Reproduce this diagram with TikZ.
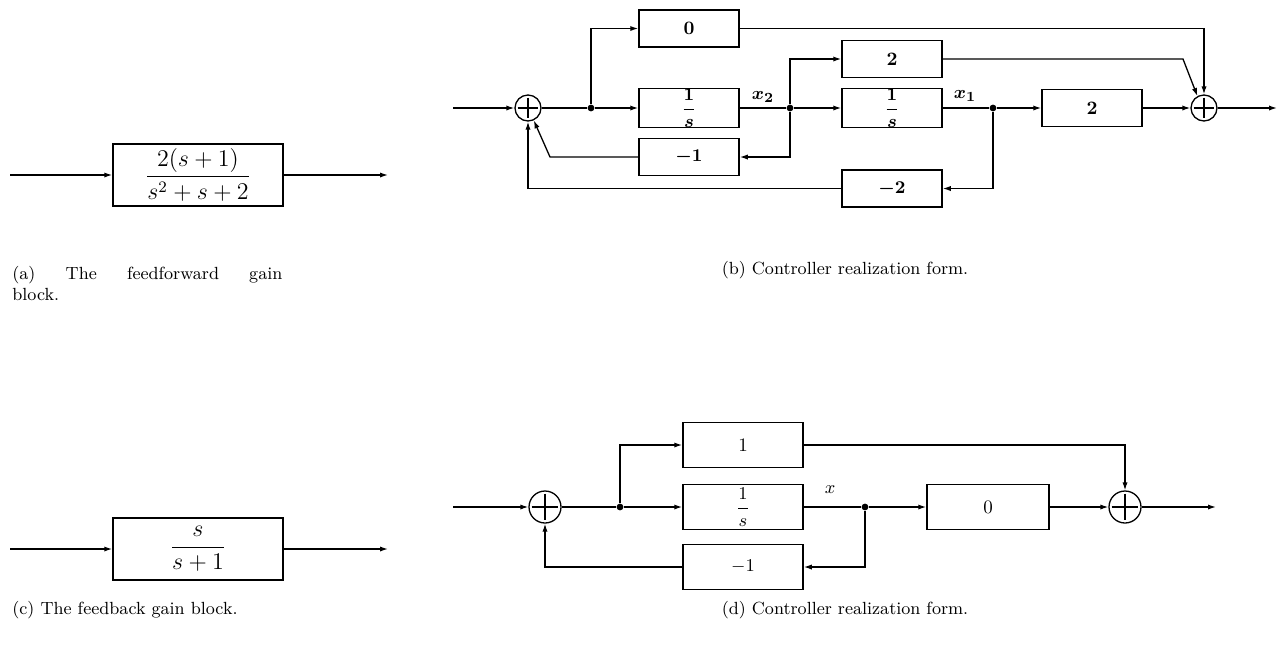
\documentclass[tikz,border=0pt]{standalone}
\usepackage{amsmath,bm}
\usetikzlibrary{arrows.meta}
\newcommand{\tfr}[2]{\genfrac{}{}{0.5pt}{}{\raisebox{3.4pt}{$#1$}}{\raisebox{-3.4pt}{$#2$}}}
\tikzset{
  lw/.style={line width=0.65pt},
  arr/.style={lw,-{Latex[length=4pt,width=2.6pt]}},
  ln/.style={lw},
  blk/.style={draw,line width=0.75pt,rectangle,inner sep=0pt,font=\fontsize{9.5}{11}\selectfont},
  blkb/.style={blk,minimum width=50pt,minimum height=18.5pt,font=\fontsize{9.5}{11}\selectfont\bfseries\boldmath},
  blkd/.style={blk,minimum width=60pt,minimum height=22.5pt},
  blkbig/.style={blk,minimum width=85pt,minimum height=31pt,font=\fontsize{11.7}{14}\selectfont},
  sumb/.style={draw,lw,circle,inner sep=0pt,minimum size=#1,
    path picture={\draw[lw] ([yshift=-1.3pt]path picture bounding box.north) -- ([yshift=1.3pt]path picture bounding box.south)
      ([xshift=1.3pt]path picture bounding box.west) -- ([xshift=-1.3pt]path picture bounding box.east);}},
  jdot/.style={circle,fill,inner sep=0pt,minimum size=3.4pt},
  captxt/.style={font=\fontsize{8.8}{10.6}\selectfont,inner sep=0pt},
  lab/.style={font=\fontsize{9.5}{11}\selectfont,inner sep=0pt}
}
\begin{document}
\begin{tikzpicture}[x=0.5pt,y=-0.5pt]
\useasboundingbox (0,0) rectangle (1281,660);
% ---------------- (a)
\coordinate (ain) at (10,175);
\coordinate (aout) at (388,175);
\node[blkbig] (ga) at (198,175) {$\dfrac{2(s+1)}{s^2+s+2}$};
\draw[arr] (ain) -- (ga);
\draw[arr] (ga) -- (aout);
\node[captxt,anchor=north west] (capa) at (12,266) {\parbox{135pt}{(a)\hfill The\hfill feedforward\hfill gain\\block.}};
% ---------------- (c)
\coordinate (cin) at (10,549);
\coordinate (cout) at (388,549);
\node[blkbig] (gc) at (198,549) {$\dfrac{s}{s+1}$};
\draw[arr] (cin) -- (gc);
\draw[arr] (gc) -- (cout);
\node[captxt,anchor=west] (capc) at (12,610) {(c) The feedback gain block.};
% ---------------- (b)
\coordinate (bin) at (453,108);
\node[sumb=13pt] (sb1) at (528,108) {};
\node[jdot] (p1) at (591,108) {};
\node[blkb] (b0) at (689,28.5) {0};
\node[blkb] (bi1) at (689,108) {$\tfr{\mathbf 1}{\bm s}$};
\node[blkb] (bm1) at (689,157) {$-\mathbf 1$};
\node[lab] (lx2) at (763,97) {$\bm{x}_{\mathbf 2}$};
\node[jdot] (p2) at (790,108) {};
\node[blkb] (b2u) at (892,59) {2};
\node[blkb] (bi2) at (892,108) {$\tfr{\mathbf 1}{\bm s}$};
\node[blkb] (bm2) at (892,188.5) {$-\mathbf 2$};
\node[lab] (lx1) at (965,96) {$\bm{x}_{\mathbf 1}$};
\node[jdot] (p3) at (993,108) {};
\node[blkb] (b2r) at (1092,108) {2};
\node[sumb=13pt] (sb2) at (1204,108) {};
\coordinate (bout) at (1277,108);
\coordinate (c1) at (550,157);
\coordinate (c2) at (1183,59);
\draw[arr] (bin) -- (sb1);
\draw[ln] (sb1) -- (p1);
\draw[arr] (p1) -- (bi1);
\draw[arr] (p1) |- (b0.west);
\draw[ln] (bi1) -- (p2);
\draw[arr] (p2) -- (bi2);
\draw[arr] (p2) |- (b2u.west);
\draw[arr] (p2) |- (bm1.east);
\draw[arr] (bm1.west) -- (c1) -- (sb1.-65);
\draw[ln] (bi2) -- (p3);
\draw[arr] (p3) -- (b2r);
\draw[arr] (p3) |- (bm2.east);
\draw[arr] (bm2.west) -| (sb1.south);
\draw[arr] (b2r) -- (sb2);
\draw[arr] (sb2) -- (bout);
\draw[arr] (b0.east) -| (sb2.north);
\draw[arr] (b2u.east) -- (c2) -- (sb2.119);
\node[captxt] (capb) at (845,270) {(b) Controller realization form.};
% ---------------- (d)
\coordinate (din) at (453,507);
\node[sumb=16pt] (sd1) at (545,507) {};
\node[jdot] (q1) at (620,507) {};
\node[blkd] (d1) at (743,445) {1};
\node[blkd] (di) at (743,507) {$\tfr{1}{s}$};
\node[blkd] (dm1) at (743,567) {$-1$};
\node[lab] (lx) at (830,490) {$x$};
\node[jdot] (q2) at (865,507) {};
\node[blkd,minimum width=61pt] (d0) at (988,507) {0};
\node[sumb=16pt] (sd2) at (1125,507) {};
\coordinate (dout) at (1216,507);
\draw[arr] (din) -- (sd1);
\draw[ln] (sd1) -- (q1);
\draw[arr] (q1) -- (di);
\draw[arr] (q1) |- (d1.west);
\draw[ln] (di) -- (q2);
\draw[arr] (q2) -- (d0);
\draw[arr] (q2) |- (dm1.east);
\draw[arr] (dm1.west) -| (sd1.south);
\draw[arr] (d1.east) -| (sd2.north);
\draw[arr] (d0) -- (sd2);
\draw[arr] (sd2) -- (dout);
\node[captxt] (capd) at (845,610) {(d) Controller realization form.};
\end{tikzpicture}
\end{document}
